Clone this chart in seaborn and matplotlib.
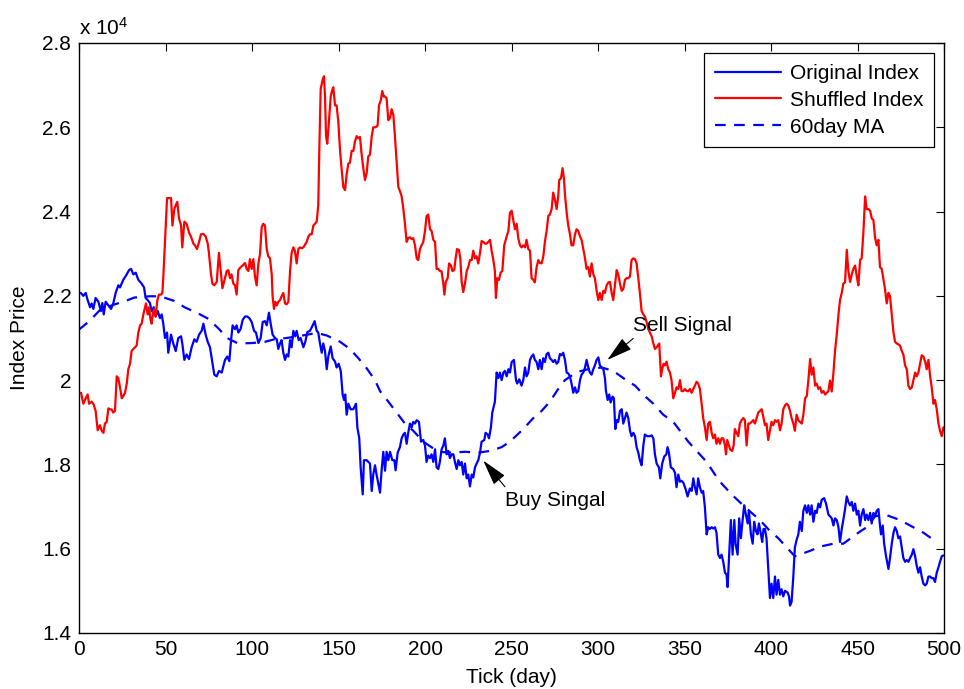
import matplotlib
matplotlib.use("Agg")
import matplotlib.pyplot as plt
import seaborn as sns
from matplotlib.ticker import FuncFormatter

# ---- Original index (daily closes) ----
orig_day = [1, 2.5, 3.9, 5, 6.4, 7.3, 8.3, 9.6, 11.2, 12.7, 13.5, 14.3, 15.4, 17, 18.5, 19.8, 21.2, 22.7, 23.7, 25.6,
            27.6, 28.9, 30.1, 31.4, 32.8, 34.3, 36.2, 37.6, 38.5, 39.7, 41, 42, 43.2, 44.3, 45.5, 46.8, 47.8, 48.7, 49.7, 50.9,
            51.6, 53.2, 54.5, 55.9, 57.4, 59, 59.7, 60.9, 62.2, 63.6, 65.1, 66.7, 68, 69.4, 70.9, 71.9, 73.2, 74.4, 75.7, 76.7,
            78.2, 79.6, 80.9, 82.5, 84.4, 85.7, 86.9, 87.9, 88.8, 90.2, 91.1, 92.1, 93.4, 94.6, 96, 97.3, 98.5, 99.8, 101.2, 102.3,
            103.7, 105, 106.2, 107.5, 108.5, 109.8, 110.8, 111.9, 113.3, 114.3, 115.2, 116.2, 117.1, 118.1, 119.1, 120, 121, 122, 122.9, 123.9,
            125, 125.8, 127, 128.1, 129.7, 130.8, 132, 133.5, 135.1, 136.2, 137.4, 138.3, 139.3, 140.3, 141.2, 142.2, 143.2, 144.1, 145.5, 146.6,
            148, 148.9, 150.1, 151.3, 152.4, 153.2, 153.9, 154.7, 155.7, 157, 158.6, 160.1, 160.9, 162, 162.8, 164, 164.7, 166.3, 168.2, 169.2,
            170.1, 171.1, 172, 173, 174, 174.9, 175.9, 176.9, 177.8, 178.8, 179.8, 181.1, 182.3, 183, 184.2, 185.5, 186.5, 187.5, 188.4, 189.4,
            190.3, 191.3, 192.3, 193.2, 194.2, 195.2, 196.5, 197.7, 199, 200, 200.9, 201.9, 202.9, 203.8, 204.8, 205.8, 206.7, 207.7, 208.6, 209.6,
            210.6, 211.5, 212.5, 213.5, 214.4, 215.4, 216.4, 217.3, 218.3, 219.3, 220.2, 221.2, 222.1, 223.1, 224.1, 225, 226, 227, 227.9, 228.9,
            229.8, 230.8, 231.8, 232.7, 234.3, 235, 236.2, 237, 238.1, 238.9, 240.4, 241.4, 242.4, 243.3, 244.3, 245.3, 246.2, 247.2, 248.2, 249.1,
            250.1, 251.4, 252.6, 253.3, 254.5, 255.8, 256.8, 257.8, 258.7, 259.7, 260.7, 261.6, 262.6, 263.5, 264.5, 265.5, 266.4, 267.4, 268.4, 269.3,
            270.3, 271.3, 272.2, 273.2, 274.1, 275.1, 276.1, 277, 278, 279, 279.9, 280.9, 281.9, 282.8, 283.8, 284.7, 285.7, 286.7, 287.6, 288.6,
            289.6, 290.5, 291.5, 292.5, 293.4, 294.4, 295.3, 296.3, 297.3, 298.2, 299.2, 300.2, 301.1, 302.1, 303.1, 304, 304.6, 305.6, 306.5, 307.3,
            308.4, 309.2, 310, 310.8, 311.7, 312.7, 313.7, 314.6, 315.6, 316.5, 317.5, 318.5, 319.4, 320.4, 321.4, 322.3, 323.3, 324.2, 325.2, 326.2,
            327.1, 328.5, 330, 331, 332, 332.9, 333.9, 335.2, 336, 337.1, 338.3, 339.5, 340.2, 341, 342.1, 343.5, 344.5, 345.4, 346.4, 347.4,
            348.3, 349.3, 350.6, 351.8, 353.1, 354.1, 355.1, 356, 357, 357.9, 358.9, 359.9, 360.8, 361.8, 362.8, 363.7, 364.7, 365.7, 366.6, 367.6,
            368.5, 369.5, 370.5, 371.4, 372.4, 373.4, 374.3, 374.9, 375.7, 376.8, 377.8, 378.8, 379.5, 380.7, 381.6, 382.6, 383.4, 384.5, 385.3, 386.5,
            387.2, 388.4, 389.4, 390.3, 391.3, 392.2, 393, 394.2, 394.9, 395.7, 396.5, 397.4, 398.4, 399.4, 400.3, 401.3, 402.3, 403.2, 404.2, 405.2,
            406.1, 407.1, 408.1, 409.6, 410.4, 411, 411.9, 412.9, 413.8, 414.8, 415.8, 416.7, 417.8, 418.7, 419.7, 420.7, 421.6, 422.6, 423.5, 424.5,
            425.5, 426.4, 427.4, 428.4, 429.3, 430.7, 431.8, 433.2, 434.1, 435.1, 436.1, 437, 438, 439, 439.9, 440.9, 441.8, 442.8, 443.8, 444.7,
            445.7, 446.7, 447.6, 448.6, 449.6, 450.5, 451.5, 452.4, 453.4, 454.4, 455.3, 456.3, 457.3, 458.2, 459.2, 460.2, 461.1, 462.1, 463, 463.6,
            464.6, 465.4, 466.5, 467.9, 468.8, 469.8, 470.8, 471.7, 472.7, 473.6, 474.6, 475.6, 476.5, 477.5, 478.5, 479.4, 480.4, 481.4, 482.3, 483.3,
            484.2, 485.2, 486.2, 487.1, 488.1, 489.1, 490, 491, 492, 492.9, 493.9, 494.8, 495.8, 496.8, 497.7, 498.7, 499.5]
orig_price = [22070, 22000, 22070, 21900, 21730, 21820, 21690, 21950, 21860, 21640, 21830, 21560, 21860, 21770, 21690, 21820, 22070, 22250, 22200, 22380,
              22510, 22610, 22640, 22510, 22550, 22380, 22290, 22200, 21950, 21900, 21830, 21640, 21730, 21510, 21640, 21470, 21560, 21340, 21000, 21130,
              20650, 21080, 20870, 20690, 21000, 21040, 20870, 20480, 20610, 20500, 20780, 20970, 20910, 21080, 21170, 21340, 21080, 20910, 20780, 20520,
              20130, 20090, 20220, 20180, 20480, 20560, 20450, 20950, 21300, 21210, 21300, 21130, 21210, 21430, 21510, 21510, 21470, 21380, 21170, 21130,
              20880, 21000, 21380, 21400, 21300, 21600, 21340, 21080, 21000, 20970, 20740, 20870, 20950, 20650, 20480, 20610, 20560, 20950, 20780, 21170,
              21040, 21170, 20950, 21000, 20780, 20910, 21140, 21170, 21300, 21400, 21170, 21130, 20870, 20650, 20870, 20690, 20260, 20560, 20800, 20520,
              20440, 20300, 20390, 20220, 19660, 19530, 19660, 19180, 19440, 19310, 19310, 19440, 18880, 18620, 17930, 17290, 18100, 18100, 18020, 17370,
              17760, 17980, 17760, 17550, 17330, 17850, 18300, 17850, 18300, 18100, 18300, 18100, 18100, 17860, 18280, 18410, 18620, 18710, 18750, 18490,
              18750, 18970, 18880, 19010, 18970, 19050, 19010, 18540, 18580, 18450, 18060, 18210, 18150, 18240, 18060, 18360, 17930, 17890, 18060, 18360,
              18450, 18620, 18240, 18320, 18150, 18240, 18240, 18060, 17890, 18100, 17980, 18060, 17760, 18020, 17670, 17760, 17480, 17760, 17690, 17930,
              18020, 18100, 18280, 18540, 18580, 18750, 18710, 18620, 18880, 19230, 19490, 20180, 20050, 20180, 20000, 20180, 20220, 20090, 20260, 20180,
              20430, 20480, 20000, 19920, 20020, 19870, 20000, 20300, 20090, 20180, 20480, 20560, 20610, 20480, 20430, 20260, 20480, 20260, 20520, 20430,
              20620, 20650, 20520, 20480, 20430, 20480, 20390, 20430, 20620, 20590, 20650, 20480, 20180, 20160, 20090, 19920, 19700, 19830, 19700, 19740,
              20000, 20130, 20180, 20300, 20480, 20300, 20180, 20130, 20260, 20350, 20480, 20540, 20350, 20300, 20260, 20050, 19740, 19530, 19660, 19470,
              19610, 19570, 18840, 19050, 19010, 19270, 19310, 18970, 19100, 19230, 19100, 18800, 18670, 18750, 18670, 18410, 18280, 18100, 17980, 18450,
              18710, 18670, 18670, 18690, 18620, 18240, 18020, 17930, 17670, 18020, 18190, 18240, 18410, 18280, 17930, 17890, 17800, 17460, 17760, 17590,
              17610, 17570, 17420, 17240, 17430, 17370, 17670, 17460, 17290, 17670, 17460, 17330, 17370, 16980, 16340, 16510, 16470, 16510, 16480, 16510,
              16380, 15860, 15780, 15860, 15690, 15430, 15390, 15090, 15780, 16680, 15860, 16680, 16120, 15860, 16720, 16250, 16600, 17030, 16850, 16600,
              16900, 16340, 16120, 16640, 16420, 16340, 16600, 16340, 16160, 16470, 16470, 16250, 15520, 14830, 15170, 14830, 15340, 14910, 15260, 14910,
              15040, 14870, 15000, 14960, 14870, 14650, 14740, 15340, 16030, 16210, 16340, 16640, 16420, 16900, 17030, 16850, 17030, 16810, 17030, 16640,
              16900, 16850, 17070, 16980, 17160, 17200, 17070, 16810, 16770, 16720, 16550, 16720, 16680, 16510, 16160, 16470, 16680, 16940, 17240, 17110,
              17030, 17110, 16900, 17070, 16810, 16900, 16550, 16810, 16940, 16680, 16810, 16680, 16850, 16600, 16850, 16770, 16900, 16940, 16550, 16340,
              16550, 16120, 15820, 15520, 15780, 16120, 16380, 16510, 16420, 16250, 16290, 16030, 15780, 15690, 15730, 15690, 15780, 15860, 15990, 15820,
              15600, 15430, 15560, 15340, 15170, 15130, 15170, 15340, 15340, 15300, 15300, 15210, 15430, 15560, 15690, 15820, 15840]

# ---- Shuffled index ----
shuf_day = [1.2, 2.5, 3.9, 5, 5.8, 7.3, 8.5, 9.6, 10.8, 12.1, 13.1, 14.1, 15, 16, 17, 17.9, 18.9, 19.8, 20.8, 21.8,
            22.7, 23.7, 24.7, 25.6, 26.6, 27.6, 28.5, 29.5, 30.4, 31.4, 32.4, 33.3, 34.3, 35.3, 36.2, 37.2, 38.2, 38.7, 39.7, 40.5,
            41.2, 42, 42.8, 43.5, 44.3, 45.3, 46.2, 47.4, 48.2, 48.7, 49.7, 50.9, 52.6, 53.2, 54, 55.1, 55.9, 56.8, 57.8, 59,
            59.7, 60.9, 62.2, 63.6, 64.7, 66.1, 67, 68.2, 69.4, 70.5, 71.9, 73.2, 74.4, 75.1, 76.3, 77.1, 78.2, 79.6, 80.9, 82.1,
            82.9, 84.4, 85.4, 86.3, 87.3, 88.2, 89.2, 90.2, 91.1, 92.1, 93.4, 94.6, 96, 96.9, 97.9, 98.8, 99.8, 100.8, 101.7, 102.7,
            103.7, 104.6, 105.6, 106.5, 107.5, 108.5, 109.4, 110.4, 111.4, 111.9, 112.7, 113.5, 114.3, 115.2, 116.2, 117.1, 118.1, 119.1, 120, 121,
            122, 122.9, 123.9, 124.8, 125.8, 126.8, 127.7, 128.7, 129.7, 130.6, 131.6, 132.6, 133.5, 134.5, 135.5, 136.4, 137.4, 138.3, 138.9, 139.7,
            140.8, 141.6, 142.2, 142.8, 143.5, 144.3, 145.5, 146.2, 147, 148, 148.9, 149.9, 150.9, 151.8, 152.8, 153.8, 154.7, 155.7, 156.6, 157.6,
            158.6, 159.5, 160.5, 161.5, 162.4, 163.4, 164.4, 165.3, 166.3, 167.2, 168.2, 169.2, 170.1, 171.5, 172.6, 173.4, 174.5, 175.3, 176.1, 176.9,
            177.8, 178.8, 179.8, 180.7, 181.7, 182.6, 183.6, 184.6, 185.5, 186.5, 187.5, 188.4, 189.4, 190.3, 191.3, 192.3, 193.2, 194.2, 195.2, 196.1,
            197.1, 198, 199, 200, 200.9, 201.9, 202.9, 203.8, 204.8, 205.8, 206.7, 207.7, 208.6, 209.6, 210.6, 211.2, 212, 213.1, 213.9, 215,
            215.8, 216.9, 217.7, 218.5, 219.6, 220.4, 221.2, 222.1, 223.1, 224.1, 225, 226, 227, 227.9, 228.9, 229.8, 230.8, 231.8, 232.7, 233.7,
            234.7, 235.6, 236.6, 237.6, 238.5, 239.5, 240.4, 241, 241.8, 242.8, 243.7, 244.7, 245.8, 247.2, 248.2, 249.1, 250.1, 251, 252, 253,
            253.9, 254.9, 255.8, 256.8, 257.8, 258.7, 259.7, 260.7, 261.6, 262.6, 263.5, 264.5, 265.5, 266.4, 267.4, 268.4, 269.3, 270.3, 271.3, 272.2,
            273.2, 274.1, 275.1, 276.1, 277, 277.6, 278.6, 279.5, 280.3, 280.9, 281.9, 282.8, 283.8, 284.7, 285.7, 286.7, 287.6, 288.6, 289.6, 290.5,
            291.5, 292.5, 293.4, 294.4, 295.3, 296.3, 297.3, 298.2, 299.2, 300.2, 301.1, 302.1, 303.1, 304, 305, 306, 306.9, 307.9, 308.8, 309.8,
            310.8, 311.7, 312.7, 313.7, 314.6, 315.6, 316.5, 317.5, 318.5, 319.4, 320.4, 321.4, 322.3, 323.3, 324.2, 325.2, 326.2, 327.1, 328.1, 329.1,
            330, 331, 332, 332.9, 333.9, 335.4, 336.4, 337.1, 337.9, 338.7, 339.6, 340.6, 341.6, 342.5, 343.5, 344.5, 345.4, 346.4, 347.4, 348.3,
            349.3, 350.2, 351.2, 352.2, 353.1, 354.1, 355.1, 356, 357, 357.9, 358.9, 359.9, 360.8, 361.8, 362.8, 363.7, 364.7, 365.7, 366.6, 367.6,
            368.5, 369.5, 370.5, 371.4, 372.4, 373.4, 374, 374.7, 375.7, 376.4, 377.6, 378.4, 379.1, 380.1, 381.1, 382, 383, 384, 384.9, 385.9,
            386.9, 387.8, 388.8, 389.7, 390.7, 391.7, 392.6, 393.6, 394.6, 395.5, 396.5, 397.4, 398.4, 399.4, 400.3, 401.3, 402.3, 403.2, 404.2, 405.2,
            406.1, 407.1, 408.1, 409, 410, 411, 411.9, 412.9, 413.8, 414.8, 415.8, 416.7, 417.8, 418.7, 419.7, 420.7, 421.6, 422.6, 423.5, 424.5,
            425.5, 426.4, 427.4, 428.4, 429.3, 430.3, 431.3, 432.2, 433.2, 434.1, 435.1, 436.1, 437, 438, 439, 439.9, 440.9, 441.8, 442.8, 443.8,
            444.7, 445.7, 446.7, 447.6, 448.6, 449.6, 450.5, 451.5, 452.4, 453.4, 454.4, 455.3, 456.3, 457.3, 458.2, 459.2, 460.2, 461.1, 462.1, 463,
            464, 464.9, 465.9, 466.9, 467.9, 468.8, 469.8, 470.8, 471.7, 472.7, 473.6, 474.6, 475.6, 476.5, 477.5, 478.5, 479.4, 480.4, 481.4, 482.3,
            483.3, 484.2, 485.2, 486.2, 487.1, 488.1, 489.1, 490, 491, 492, 492.9, 493.9, 494.8, 495.8, 496.8, 497.7, 498.7, 499.7]
shuf_price = [19700, 19440, 19570, 19660, 19440, 19490, 19420, 19270, 18810, 18930, 18800, 18750, 18970, 19010, 19330, 19310, 19300, 19230, 19270, 20090,
              20050, 19830, 19570, 19620, 19700, 19920, 20260, 20390, 20690, 20740, 20780, 20820, 21130, 21300, 21340, 21560, 21730, 21820, 21560, 21730,
              21470, 21340, 21600, 21690, 21510, 21900, 22030, 22030, 22070, 22420, 23280, 24320, 24320, 24320, 23670, 24060, 24150, 24230, 23840, 23670,
              23150, 23760, 23710, 23500, 23410, 23240, 23200, 23110, 23280, 23460, 23470, 23410, 23240, 23020, 22510, 22290, 22250, 22330, 23020, 22510,
              22180, 22420, 22590, 22610, 22420, 22510, 22290, 22250, 22030, 22610, 22680, 22720, 22780, 22640, 22590, 22870, 22640, 22870, 22460, 22250,
              22770, 22980, 23630, 23710, 23670, 23110, 22940, 22890, 22510, 21990, 21690, 21860, 21770, 21860, 21900, 21990, 22070, 21820, 21800, 21860,
              22590, 23020, 23150, 23070, 22770, 23110, 23150, 23130, 23150, 23210, 23280, 23410, 23460, 23460, 23670, 23710, 23760, 24150, 25440, 26910,
              27120, 27210, 26730, 25790, 25610, 26040, 26730, 26860, 26950, 26520, 26520, 26130, 25440, 25010, 24580, 24510, 24880, 25140, 25160, 25440,
              25440, 25660, 25790, 25740, 25770, 25350, 25010, 24750, 24920, 25310, 25350, 25790, 26000, 26000, 26040, 26520, 26650, 26860, 26730, 26730,
              26690, 26170, 26220, 26430, 26300, 25790, 25180, 24580, 24490, 24360, 24060, 23710, 23280, 23370, 23390, 23350, 23370, 23200, 22890, 22850,
              23110, 23200, 23280, 23540, 23890, 23930, 23580, 23540, 23330, 23280, 22640, 22640, 22590, 22580, 22290, 22030, 22330, 22420, 22770, 22720,
              22590, 22610, 22890, 23110, 23090, 22890, 22330, 22090, 22290, 22590, 22680, 22850, 22850, 23070, 22890, 22940, 22770, 23020, 23300, 23280,
              23240, 23240, 23280, 23330, 23070, 22850, 22590, 21950, 22420, 22380, 22550, 22590, 23200, 23410, 23540, 23970, 24020, 23800, 23580, 23710,
              23370, 23200, 23150, 23200, 23150, 23330, 23110, 23070, 22420, 22380, 22320, 22680, 22850, 22780, 22770, 22940, 23280, 23540, 23900, 23930,
              24060, 24450, 24280, 24060, 24360, 24750, 24790, 25030, 24790, 24400, 23970, 23670, 23460, 23200, 23200, 23460, 23580, 23540, 23410, 23330,
              23110, 22890, 22640, 22680, 22460, 22770, 22510, 22420, 22120, 21900, 22070, 21900, 22120, 22070, 22250, 22320, 22330, 22070, 21900, 22250,
              22610, 22510, 22290, 22120, 22160, 22380, 22420, 22420, 22460, 22850, 22890, 22870, 22770, 22420, 22070, 21640, 21560, 21510, 21380, 21210,
              21130, 21040, 20870, 20740, 20780, 20870, 20090, 20260, 20390, 20350, 20440, 20260, 20180, 20000, 19570, 19700, 19830, 19790, 20000, 19740,
              19740, 19790, 19740, 19740, 19790, 19700, 19790, 19870, 19960, 19920, 19790, 19440, 19100, 18880, 18580, 18970, 19010, 18750, 18620, 18710,
              18490, 18620, 18490, 18620, 18620, 18450, 18240, 18580, 18450, 18350, 18320, 18450, 18840, 18750, 18670, 18970, 19050, 19100, 19050, 18450,
              18970, 18970, 19010, 19050, 18970, 19100, 19230, 19270, 19310, 19140, 18930, 18970, 18580, 18800, 19010, 18930, 19050, 19010, 19050, 18810,
              18970, 19310, 19400, 19440, 19400, 19270, 19100, 18970, 18800, 19180, 19050, 19010, 18970, 19180, 19570, 19620, 20000, 20500, 20130, 20300,
              19870, 19920, 19790, 19830, 19700, 19740, 19660, 19700, 19740, 19990, 19730, 20180, 20690, 21080, 21560, 21900, 22070, 22290, 22320, 23090,
              22590, 22330, 22510, 22640, 22720, 22460, 22250, 22850, 22890, 23500, 24360, 24060, 24060, 24020, 23840, 23800, 23370, 23200, 23330, 22680,
              22640, 22420, 22160, 21820, 22070, 21990, 21560, 21130, 20910, 20870, 20850, 20820, 20690, 20610, 20350, 20260, 19870, 19790, 19830, 20000,
              20180, 20090, 20180, 20390, 20590, 20560, 20440, 20260, 20480, 20090, 19830, 19440, 19530, 19310, 18970, 18800, 18670, 18880]

# ---- 60-day moving average of the original index ----
ma_day = [0, 6, 12, 20, 27, 32, 41, 47, 55, 61, 69, 75, 81, 85.5, 92, 100, 107.5, 113, 120, 128,
          137.4, 143.2, 150.9, 156.6, 161.5, 166.3, 171.1, 174, 178.8, 183.6, 188.4, 193.2, 199, 207.7, 215.4, 223.1, 230.8, 237.6, 244.3, 249.1,
          256.8, 262.6, 267.4, 272.2, 277, 280.9, 287.6, 294.4, 302.1, 308.8, 315.6, 321.4, 327.1, 332, 337.7, 343.5, 352.2, 357.9, 362.8, 367.6,
          371.4, 377.2, 383.9, 388.8, 393.6, 399.4, 404.2, 410, 413.8, 422.6, 428.4, 436.1, 441.8, 450.5, 455.3, 460.2, 465.9, 474.6, 480.4, 488.1,
          495]
ma_price = [21200, 21400, 21660, 21790, 21880, 21960, 21990, 21990, 21880, 21730, 21580, 21450, 21210, 21000, 20870, 20880, 20910, 20970, 21000, 21050,
            21120, 21060, 20910, 20740, 20520, 20280, 20000, 19740, 19490, 19230, 18970, 18800, 18540, 18300, 18280, 18300, 18280, 18320, 18410, 18540,
            18840, 19100, 19270, 19490, 19790, 20000, 20190, 20260, 20300, 20220, 20020, 19870, 19620, 19440, 19180, 19010, 18540, 18280, 18060, 17760,
            17550, 17290, 17030, 16850, 16680, 16420, 16250, 15990, 15820, 15950, 16050, 16120, 16120, 16380, 16510, 16770, 16810, 16680, 16550, 16380,
            16180]

x_ticks = list(range(0, 501, 50))
y_ticks = list(range(14000, 28001, 2000))
series_labels = ["Original Index", "Shuffled Index", "60day MA"]

sns.set_style("white")
plt.rcParams["font.family"] = ["Liberation Sans", "DejaVu Sans"]
plt.rcParams["mathtext.fontset"] = "custom"
plt.rcParams["mathtext.rm"] = "Liberation Sans"
plt.rcParams["mathtext.it"] = "Liberation Sans:italic"
for key in ("text.color", "axes.labelcolor", "xtick.color", "ytick.color"):
    plt.rcParams[key] = "black"

FS = 15
LW = 1.6

fig = plt.figure(figsize=(9.64, 6.89), dpi=100)
fig.patch.set_facecolor("white")
ax = fig.add_axes([79 / 964, 1 - 633 / 689, 865 / 964, 590 / 689])

sns.lineplot(x=orig_day, y=orig_price, ax=ax, color="#0000ff", linewidth=LW,
             label=series_labels[0], errorbar=None, sort=False)
sns.lineplot(x=shuf_day, y=shuf_price, ax=ax, color="#ff0000", linewidth=LW,
             label=series_labels[1], errorbar=None, sort=False)
sns.lineplot(x=ma_day, y=ma_price, ax=ax, color="#0000ff", linewidth=LW,
             label=series_labels[2], errorbar=None, sort=False)
ma_line = ax.get_lines()[2]
ma_line.set_dashes((4.8, 3.8))

ax.set_xlim(0, 500)
ax.set_ylim(14000, 28000)
ax.set_xticks(x_ticks)
ax.set_yticks(y_ticks)
ax.yaxis.set_major_formatter(FuncFormatter(lambda v, p: f"{v / 1e4:g}"))
ax.tick_params(axis="both", which="major", direction="in", length=5.5, width=0.8,
               top=True, right=True, labelsize=FS, colors="black")
ax.tick_params(axis="x", pad=5)
ax.tick_params(axis="y", pad=5.5)
for s in ax.spines.values():
    s.set_visible(True)
    s.set_color("black")
    s.set_linewidth(1.0)

ax.set_xlabel("Tick (day)", fontsize=FS, color="black")
ax.set_ylabel("Index Price", fontsize=FS, color="black")
ax.xaxis.set_label_coords(0.5, (633 - 668) / 590)
ax.yaxis.set_label_coords((29 - 79) / 865, 0.5)

ax.text(0, 1 + 8 / 590, r"x 10$^{4}$", transform=ax.transAxes, ha="left",
        va="baseline", fontsize=FS, color="black")

leg = ax.legend(handles=ax.get_lines()[:3], labels=series_labels, loc="upper right",
                fontsize=FS, frameon=True, fancybox=False, shadow=False, framealpha=1,
                edgecolor="black", borderpad=0.5, labelspacing=0.38, handlelength=3.2,
                handletextpad=0.4, borderaxespad=0.5)
leg.get_frame().set_linewidth(0.9)
for t in leg.get_texts():
    t.set_color("black")

arrow_kw = dict(arrowstyle="-|>,head_length=0.8,head_width=0.22", color="black",
                lw=0.8, mutation_scale=20, shrinkA=0, shrinkB=0)
# Sell signal: MA crossing from above
ax.annotate("", xy=(305.4, 20480), xytext=(320.4, 20990), arrowprops=arrow_kw)
ax.text(320.5, 21290, "Sell Signal", fontsize=FS, ha="left", va="center", color="black")
# Buy signal: MA crossing from below
ax.annotate("", xy=(233.7, 18090), xytext=(246.2, 17470), arrowprops=arrow_kw)
ax.text(246.5, 17150, "Buy Singal", fontsize=FS, ha="left", va="center", color="black")

fig.savefig("out.png", dpi=100, facecolor="white")
